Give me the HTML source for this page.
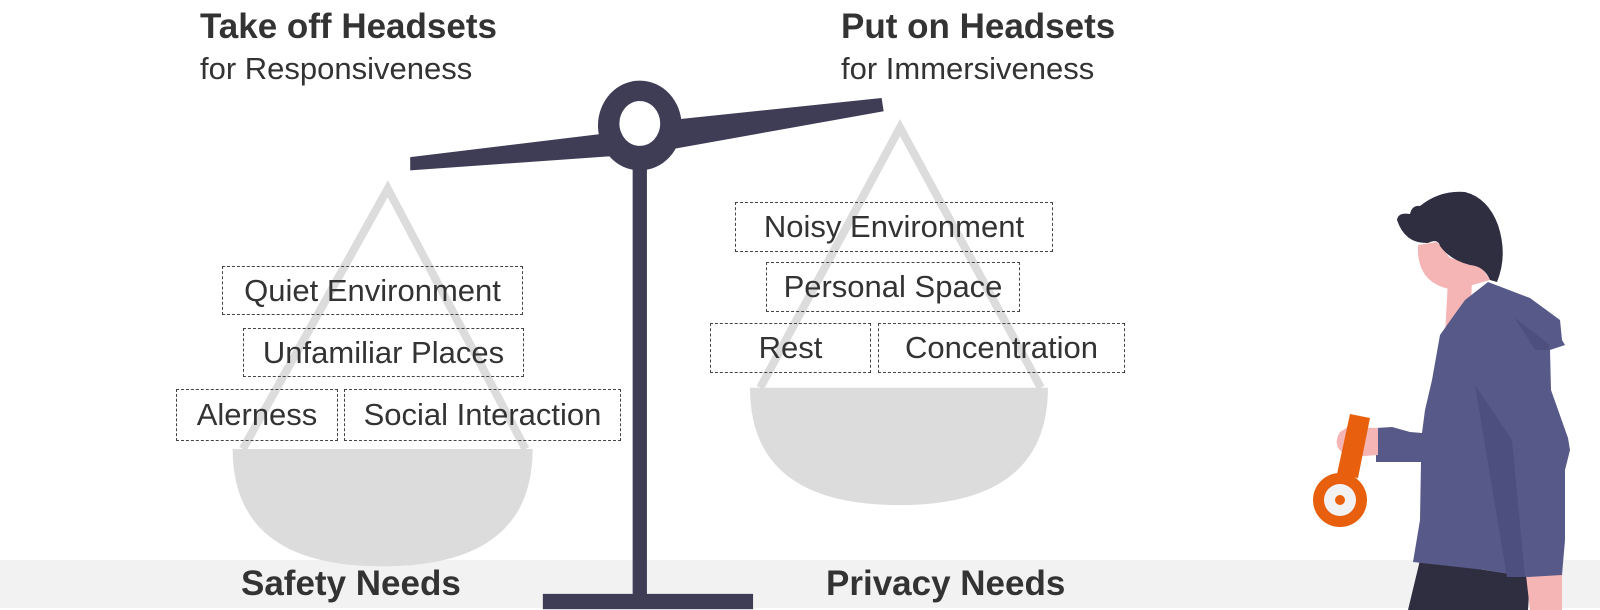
<!DOCTYPE html>
<html><head><meta charset="utf-8"><style>
body{margin:0;background:#fff;}
.w{position:relative;width:1600px;height:610px;overflow:hidden;font-family:"Liberation Sans",sans-serif;color:#333;}
.t{position:absolute;white-space:nowrap;}
.b{position:absolute;border:1.5px dashed #444;box-sizing:border-box;display:flex;align-items:center;justify-content:center;font-size:31px;color:#333;white-space:nowrap;}
</style></head><body><div class="w">
<svg width="1600" height="610" style="position:absolute;left:0;top:0">
<rect x="0" y="560" width="1600" height="48" fill="#f2f2f2"/>
<g transform="scale(1.0204)">
<polyline points="238,440 380,185 515,440" fill="none" stroke="#dcdcdc" stroke-width="8"/>
<path d="M228,440 L522,440 Q522,555 375,555 Q228,555 228,440Z" fill="#dcdcdc"/>
<polyline points="745,380 882,125 1020,380" fill="none" stroke="#dcdcdc" stroke-width="8"/>
<path d="M735,380 L1027,380 Q1027,495 881,495 Q735,495 735,380Z" fill="#dcdcdc"/>
<path d="M402,154 L600,130 L654,118 L864,96 L866,109 L654,147 L600,153 L402,167Z" fill="#3f3d56"/>
<rect x="620" y="140" width="14" height="445" fill="#3f3d56"/>
<rect x="532" y="582" width="206" height="15" fill="#3f3d56"/>
<ellipse cx="627" cy="123" rx="41" ry="44" fill="#3f3d56"/>
<ellipse cx="627" cy="121" rx="20" ry="22" fill="#fff"/>
</g>
<path d="M1420,560 L1408,610 L1528,610 L1530,577 L1485,570Z" fill="#2f2e41"/>
<path d="M1526,575 L1530,610 L1562,610 L1562,575Z" fill="#f5b5b5"/>
<path d="M1448,280 L1472,280 L1470,330 L1445,335Z" fill="#f5b5b5"/>
<path d="M1418,245 Q1416,285 1455,290 L1490,280 L1480,265 L1450,258 L1437,242Z" fill="#f5b5b5"/>
<path d="M1488,282 L1530,298 L1560,320 L1562,340 L1565,345 L1550,350 L1551,390 L1568,438 L1570,450 L1565,470 L1565,540 L1562,575 L1528,577 L1485,570 L1413,562 L1420,520 L1421,462 L1376,462 L1376,428 L1392,427 L1410,432 L1422,433 L1425,410 L1432,380 L1440,335 L1452,318 L1465,300Z" fill="#575a88"/>
<path d="M1475,385 L1512,440 L1525,577 L1507,577Z" fill="#4d4f7e"/>
<path d="M1515,318 L1550,345 L1548,350 L1535,350Z" fill="#4d4f7e"/>
<path d="M1397,220 Q1398,212 1410,214 Q1412,205 1420,206 Q1440,190 1465,192 Q1488,198 1498,225 Q1508,255 1497,282 L1490,280 Q1484,266 1470,265 Q1450,260 1440,246 Q1438,238 1428,243 Q1405,244 1397,220Z" fill="#2f2e41"/>
<path d="M1348,427 L1378,428 L1378,455 L1350,457 Q1330,448 1340,432Z" fill="#f5b5b5"/>
<path d="M1350,414 L1370,418 L1358,478 L1337,474Z" fill="#e8600e"/>
<circle cx="1340" cy="500" r="27" fill="#e8600e"/>
<circle cx="1340" cy="500" r="16" fill="#f2f2f2"/>
<circle cx="1340" cy="500" r="5" fill="#e8600e"/>
</svg>
<div class="t" style="left:200px;top:7px;font-size:35px;font-weight:bold">Take off Headsets</div>
<div class="t" style="left:200px;top:51px;font-size:31px">for Responsiveness</div>
<div class="t" style="left:841px;top:7px;font-size:35px;font-weight:bold">Put on Headsets</div>
<div class="t" style="left:841px;top:51px;font-size:31px">for Immersiveness</div>
<div class="b" style="left:222px;top:266px;width:301px;height:49px">Quiet Environment</div>
<div class="b" style="left:243px;top:328px;width:281px;height:49px">Unfamiliar Places</div>
<div class="b" style="left:176px;top:389px;width:162px;height:52px">Alerness</div>
<div class="b" style="left:344px;top:389px;width:277px;height:52px">Social Interaction</div>
<div class="b" style="left:735px;top:202px;width:318px;height:50px">Noisy Environment</div>
<div class="b" style="left:766px;top:262px;width:254px;height:50px">Personal Space</div>
<div class="b" style="left:710px;top:323px;width:161px;height:50px">Rest</div>
<div class="b" style="left:878px;top:323px;width:247px;height:50px">Concentration</div>
<div class="t" style="left:241px;top:564px;font-size:35px;font-weight:bold">Safety Needs</div>
<div class="t" style="left:826px;top:564px;font-size:35px;font-weight:bold">Privacy Needs</div>
</div></body></html>
